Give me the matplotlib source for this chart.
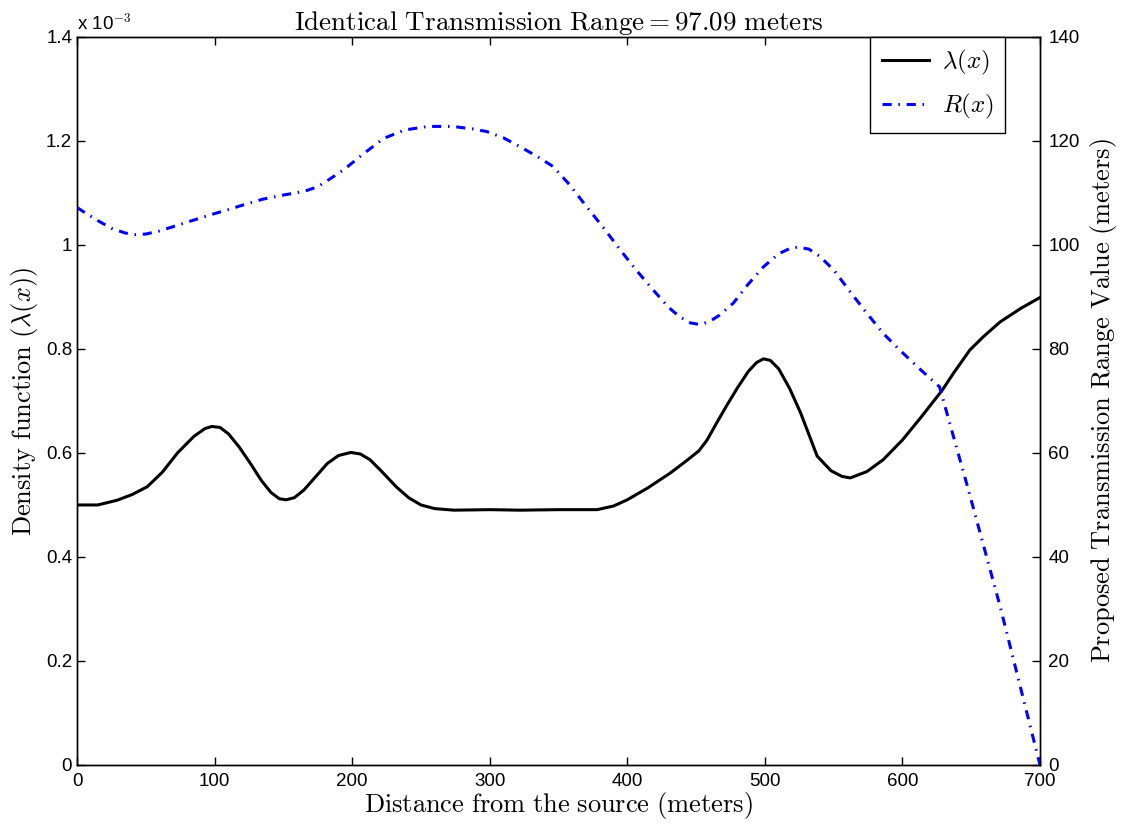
#!/usr/bin/env python3
"""
Density function and proposed transmission range along the distance from the source.
"""

import matplotlib

matplotlib.use("Agg")
import matplotlib.pyplot as plt
from matplotlib.ticker import FuncFormatter

# density lambda(x), values in units of 1e-3
lam_x = [0, 15, 29, 40, 51, 62, 73, 85, 93, 98, 104, 110, 118, 126, 134, 141,
         147, 152, 158, 165, 173, 182, 190, 199, 206, 213, 222, 232, 241, 250,
         260, 274, 300, 322, 350, 378, 390, 400, 415, 431, 443, 452, 458, 465,
         472, 480, 488, 494, 499, 504, 510, 518, 526, 538, 548, 556, 562, 574,
         586, 600, 613, 629, 637, 649, 659, 671, 686, 700]
lam_y = [0.500, 0.500, 0.509, 0.520, 0.535, 0.563, 0.600, 0.632, 0.647, 0.651,
         0.649, 0.637, 0.611, 0.580, 0.547, 0.524, 0.512, 0.510, 0.514, 0.529,
         0.553, 0.580, 0.595, 0.601, 0.598, 0.587, 0.563, 0.535, 0.514, 0.500,
         0.493, 0.490, 0.491, 0.490, 0.491, 0.491, 0.498, 0.510, 0.533, 0.561,
         0.585, 0.604, 0.625, 0.658, 0.690, 0.725, 0.757, 0.774, 0.781, 0.778,
         0.762, 0.724, 0.677, 0.594, 0.566, 0.555, 0.552, 0.564, 0.587, 0.625,
         0.667, 0.721, 0.753, 0.798, 0.824, 0.852, 0.878, 0.899]

# proposed transmission range R(x), meters
r_x = [0, 7, 15, 25, 35, 42, 50, 60, 72, 85, 97, 110, 122, 135, 150, 165, 175,
       185, 195, 208, 223, 238, 255, 273, 288, 298, 310, 322, 334, 346, 358,
       370, 383, 395, 407, 419, 430, 438, 446, 453, 460, 467, 477, 488, 499,
       510, 518, 524, 532, 540, 550, 562, 574, 586, 598, 612, 627, 647, 671,
       690, 700]
r_y = [107.2, 106.0, 104.7, 103.2, 102.3, 102.0, 102.1, 102.7, 103.7, 104.8,
       105.8, 106.8, 107.8, 108.8, 109.6, 110.3, 111.2, 112.9, 114.7, 117.5,
       120.5, 122.1, 122.8, 122.8, 122.3, 121.8, 120.6, 118.9, 117.1, 115.1,
       111.6, 107.5, 103.2, 99.0, 95.0, 91.3, 88.0, 86.2, 85.0, 84.7, 85.3,
       86.5, 88.8, 92.5, 95.8, 98.3, 99.3, 99.6, 99.2, 97.8, 95.2, 91.0, 86.9,
       83.0, 79.8, 76.3, 72.7, 53.8, 30.5, 10.5, 0.0]

x_ticks = [0, 100, 200, 300, 400, 500, 600, 700]
left_ticks = [0, 0.2, 0.4, 0.6, 0.8, 1.0, 1.2, 1.4]
right_ticks = [0, 20, 40, 60, 80, 100, 120, 140]

plt.rcParams["font.family"] = ["Liberation Sans", "DejaVu Sans"]
plt.rcParams["mathtext.fontset"] = "cm"
plt.rcParams["axes.linewidth"] = 1.0

fig = plt.figure(figsize=(11.23, 8.27), dpi=100)
ax = fig.add_axes([0.0686, 0.075, 0.8575, 0.8803])
ax2 = ax.twinx()

l1, = ax.plot(lam_x, [v * 1e-3 for v in lam_y], color="black", lw=2.2,
              label=r"$\lambda(x)$")
l2, = ax2.plot(r_x, r_y, color="blue", lw=2.2,
               linestyle=(0, (3.0, 2.2, 0.5, 2.2)), label=r"$R(x)$")

ax.set_xlim(0, 700)
ax.set_ylim(0, 1.4e-3)
ax2.set_ylim(0, 140)
ax.set_xticks(x_ticks)
ax.set_yticks([v * 1e-3 for v in left_ticks])
ax2.set_yticks(right_ticks)
ax.yaxis.set_major_formatter(FuncFormatter(lambda v, p: f"{v * 1e3:g}"))

ax.tick_params(direction="in", length=6, labelsize=13.5, top=True, right=False,
               width=1.0)
ax2.tick_params(direction="in", length=6, labelsize=13.5, width=1.0, pad=6)
ax.tick_params(axis="x", pad=6)

ax.text(0.0, 1.004, r"x 10$^{-3}$", transform=ax.transAxes, fontsize=13.5,
        ha="left", va="bottom")

ax.set_title(r"$\mathrm{Identical\ Transmission\ Range} = 97.09\ \mathrm{meters}$",
             fontsize=19.5, pad=3)
ax.set_xlabel(r"$\mathrm{Distance\ from\ the\ source\ (meters)}$", fontsize=19,
              labelpad=0)
ax.set_ylabel(r"$\mathrm{Density\ function\ }(\lambda(x))$", fontsize=19,
              labelpad=4)
ax2.set_ylabel(r"$\mathrm{Proposed\ Transmission\ Range\ Value\ (meters)}$",
               fontsize=19, labelpad=6)

leg = ax2.legend(handles=[l1, l2], loc="upper right", fontsize=18,
                 fancybox=False, edgecolor="black", framealpha=1,
                 borderaxespad=0.0, handlelength=1.9, borderpad=0.45,
                 labelspacing=0.6, handletextpad=0.5,
                 bbox_to_anchor=(0.9637, 1.0))
leg.get_frame().set_linewidth(1.0)

fig.savefig("out.png", dpi=100)
plt.close(fig)
